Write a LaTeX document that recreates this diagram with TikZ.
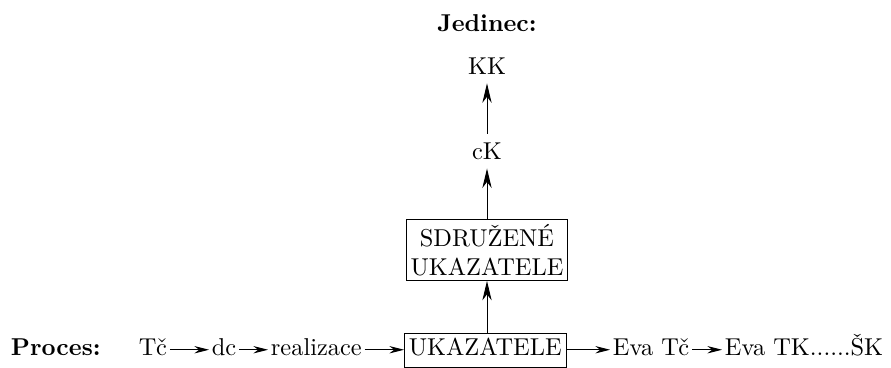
\documentclass[tikz,border=0pt]{standalone}
\usepackage{fontspec}
\usepackage{tikz}
\usetikzlibrary{arrows.meta}

\begin{document}
\begin{tikzpicture}[x=0.41pt, y=-0.41pt, >={Stealth[length=6pt, width=3pt, inset=2pt]},
		item/.style={inner sep=1pt, anchor=base west},
		level/.style={inner sep=3.5pt},
		ukaz/.style={draw, rectangle, inner sep=1.8pt},
		up/.style={-{Stealth[length=8pt, width=3.8pt, inset=2.5pt]}}]
				\useasboundingbox (0,0) rectangle (891,367);
				\node[font=\bfseries] (jedinec)at(487, 23) {Jedinec:};
				\node[level] (KK)at(487, 66) {KK};
				\node[level] (cK)at(487, 151) {cK};
				\node[ukaz, align=center] (SU)at(487, 250) {SDRUŽENÉ\\UKAZATELE};
				\node[item, font=\bfseries] (proces)at(8, 355) {Proces:};
				\node[item] (Tc)at(136, 355) {Tč};
				\node[item] (dc)at(209, 355) {dc};
				\node[item] (real)at(268, 355) {realizace};
				\node[ukaz, anchor=base west, text depth=3.5pt] (U)at(404, 355) {UKAZATELE};
				\node[item] (EvaTc)at(610, 355) {Eva Tč};
				\node[item] (EvaTK)at(722, 355) {Eva TK......ŠK};
				\draw[->] (Tc.mid east) -- (dc.mid west);
				\draw[->] (dc.mid east) -- (real.mid west);
				\draw[->] (real.mid east) -- (U.west |- real.mid east);
				\draw[->] (U.east |- EvaTc.mid west) -- (EvaTc.mid west);
				\draw[->] (EvaTc.mid east) -- (EvaTK.mid west);
				\draw[up] (U.north -| SU) -- (SU.south);
				\draw[up] (SU) -- (cK);
				\draw[up] (cK) -- (KK);
			\end{tikzpicture}
\end{document}
